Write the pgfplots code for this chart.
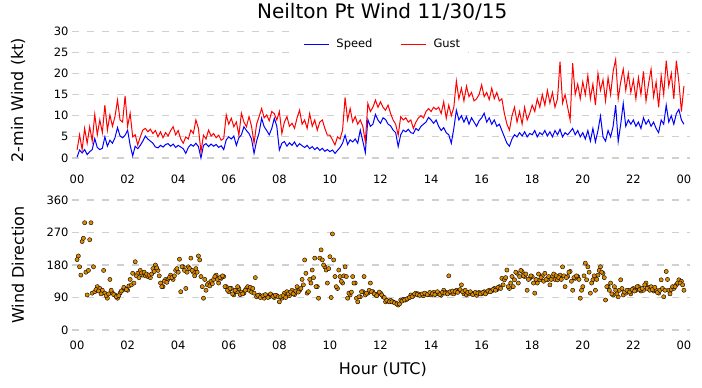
\documentclass[border=0pt]{standalone}
\usepackage{fontspec}
\setmainfont{DejaVu Sans}
\usepackage{pgfplots}
\usepackage{pgfplotstable}
\pgfplotsset{compat=1.18}
\definecolor{dirorange}{RGB}{220,138,0}
\definecolor{gridgray}{RGB}{208,208,208}
\pgfplotstableread{
h s g d1 d2
0.0 0.2 1.9 195 205
0.1 1.9 5.5 175 152
0.2 1.2 2.0 245 254
0.3 2.0 7.0 297 160
0.4 0.8 3.5 97 165
0.5 1.5 7.4 250 297
0.6 2.0 4.0 102 175
0.7 4.6 10.3 106 112
0.8 2.5 5.5 120 108
0.9 2.0 9.0 115 100
1.0 2.3 6.0 110 165
1.1 5.0 12.5 102 95
1.2 2.8 6.6 88 100
1.3 4.2 10.2 140 110
1.4 3.5 7.5 102 98
1.5 4.8 9.8 97 92
1.6 7.2 13.7 88 95
1.7 5.2 9.0 102 108
1.8 4.8 8.5 110 118
1.9 5.4 14.7 115 112
2.0 6.6 7.5 110 122
2.1 3.0 10.6 140 125
2.2 0.5 5.0 157 130
2.3 2.8 5.5 189 150
2.4 2.2 3.1 157 145
2.5 3.0 5.0 165 158
2.6 4.0 6.6 152 160
2.7 5.2 7.0 150 155
2.8 4.5 6.2 148 152
2.9 4.0 6.8 145 155
3.0 3.5 5.8 170 162
3.1 2.6 6.5 180 172
3.2 2.4 5.0 165 150
3.3 3.0 6.2 130 120
3.4 2.6 4.8 120 135
3.5 3.2 6.0 140 132
3.6 3.4 5.2 140 145
3.7 2.8 6.5 152 145
3.8 3.3 7.4 140 150
3.9 2.5 5.5 165 170
4.0 3.0 6.5 160 196
4.1 2.6 4.5 106 175
4.2 2.2 3.5 175 165
4.3 1.1 5.0 115 160
4.4 2.5 4.5 175 170
4.5 3.2 6.6 199 165
4.6 2.8 5.8 160 150
4.7 3.5 9.0 170 160
4.8 2.7 7.0 205 194
4.9 0.0 1.5 148 120
5.0 3.0 5.4 88 140
5.1 3.4 4.5 110 125
5.2 2.7 6.6 130 122
5.3 3.3 5.2 135 128
5.4 2.8 5.8 140 148
5.5 3.2 4.8 152 140
5.6 2.5 5.4 130 145
5.7 2.9 4.2 143 150
5.8 2.0 4.6 148 120
5.9 4.3 10.2 120 110
6.0 5.0 8.0 106 115
6.1 4.5 9.4 115 100
6.2 5.2 7.4 97 110
6.3 3.0 8.5 106 120
6.4 4.8 5.4 115 98
6.5 5.5 10.6 105 100
6.6 7.4 8.5 102 110
6.7 6.5 7.4 115 120
6.8 5.8 9.8 110 118
6.9 4.5 7.5 105 115
7.0 1.1 3.5 102 145
7.1 4.0 8.0 92 96
7.2 6.0 9.8 97 90
7.3 9.4 11.7 92 95
7.4 7.4 9.5 88 98
7.5 6.5 10.2 95 90
7.6 5.5 8.8 92 100
7.7 7.0 11.0 97 93
7.8 9.4 10.5 90 96
7.9 7.5 9.0 95 92
8.0 1.9 11.0 78 92
8.1 3.5 5.8 88 95
8.2 3.9 8.5 102 90
8.3 2.8 9.8 106 100
8.4 3.6 7.5 95 105
8.5 3.0 8.2 110 100
8.6 3.8 7.0 98 108
8.7 2.7 9.5 120 105
8.8 3.4 11.3 110 115
8.9 2.9 8.0 140 125
9.0 2.5 9.0 194 157
9.1 3.0 7.0 102 106
9.2 2.2 10.5 140 130
9.3 2.7 7.5 166 145
9.4 2.0 9.0 199 120
9.5 2.5 6.6 120 88
9.6 1.8 8.5 199 222
9.7 2.3 9.0 194 180
9.8 1.6 7.0 175 166
9.9 2.0 5.4 130 170
10.0 1.5 5.4 203 90
10.1 1.9 4.3 266 194
10.2 1.1 3.1 148 120
10.3 1.8 5.0 115 166
10.4 2.5 4.5 148 135
10.5 3.5 6.6 130 150
10.6 5.4 14.3 175 148
10.7 3.2 9.0 88 102
10.8 4.3 11.7 97 105
10.9 3.8 8.5 148 130
11.0 4.5 9.8 130 88
11.1 3.5 8.0 78 92
11.2 6.6 9.0 92 106
11.3 4.0 7.5 106 148
11.4 1.3 3.9 97 102
11.5 9.1 12.9 102 110
11.6 7.5 11.0 130 106
11.7 8.0 12.0 106 100
11.8 10.3 13.7 97 95
11.9 9.0 12.0 100 105
12.0 8.2 13.3 102 97
12.1 9.5 12.0 92 90
12.2 9.1 11.3 78 82
12.3 8.0 12.5 80 78
12.4 7.6 10.5 82 78
12.5 6.6 9.0 78 75
12.6 6.0 8.0 75 72
12.7 2.7 5.4 69 72
12.8 5.5 9.8 83 80
12.9 6.6 9.0 85 83
13.0 6.2 9.5 83 86
13.1 6.8 8.5 88 90
13.2 6.0 9.0 97 92
13.3 5.8 7.0 95 100
13.4 7.0 8.5 102 98
13.5 6.5 9.5 100 96
13.6 7.5 10.0 97 100
13.7 8.0 9.5 95 102
13.8 8.5 11.0 100 98
13.9 9.6 11.7 98 104
14.0 9.0 11.0 97 100
14.1 8.2 12.0 104 98
14.2 9.0 11.5 100 106
14.3 7.5 12.0 102 98
14.4 6.5 10.5 96 104
14.5 7.2 13.3 110 102
14.6 6.0 9.4 104 100
14.7 5.5 12.5 150 106
14.8 3.5 10.0 102 108
14.9 7.0 12.0 100 106
15.0 11.3 18.2 110 104
15.1 9.0 14.0 108 112
15.2 10.0 16.5 125 106
15.3 8.5 13.5 100 110
15.4 9.8 17.0 97 104
15.5 8.0 14.5 100 106
15.6 9.5 15.5 102 98
15.7 8.5 13.5 100 104
15.8 7.5 14.0 96 102
15.9 8.8 15.0 104 100
16.0 9.5 17.3 100 104
16.1 10.6 14.5 106 100
16.2 8.5 15.5 104 108
16.3 9.5 13.8 110 106
16.4 8.0 16.5 108 112
16.5 9.0 14.0 115 110
16.6 7.5 15.5 112 118
16.7 8.0 13.5 120 115
16.8 6.5 14.0 143 125
16.9 5.0 10.5 139 145
17.0 3.5 8.0 166 120
17.1 2.8 6.6 115 130
17.2 4.5 10.0 148 120
17.3 5.5 12.0 139 160
17.4 5.0 8.5 157 130
17.5 6.0 11.0 148 165
17.6 5.2 8.0 162 150
17.7 6.2 12.0 148 155
17.8 5.0 9.0 110 140
17.9 5.8 10.5 143 150
18.0 5.5 12.5 148 130
18.1 6.5 11.0 102 140
18.2 5.0 14.0 130 155
18.3 6.0 12.0 139 145
18.4 5.5 15.0 150 135
18.5 6.5 12.5 157 140
18.6 5.2 16.0 139 148
18.7 6.2 13.0 125 140
18.8 5.0 15.5 148 155
18.9 6.5 12.0 140 150
19.0 5.5 14.0 139 145
19.1 6.8 22.8 152 140
19.2 5.0 13.0 175 150
19.3 6.0 15.0 120 145
19.4 5.5 12.0 148 160
19.5 6.2 9.0 162 135
19.6 7.0 22.4 110 145
19.7 5.5 15.0 143 150
19.8 6.5 17.5 148 140
19.9 5.0 14.0 88 110
20.0 6.0 18.0 120 150
20.1 4.5 15.0 185 139
20.2 6.5 19.5 175 160
20.3 4.0 14.0 102 130
20.4 7.0 17.5 139 150
20.5 3.8 12.5 110 140
20.6 6.5 20.0 152 165
20.7 9.9 16.0 175 160
20.8 5.0 18.5 157 145
20.9 4.0 13.5 83 120
21.0 6.5 19.0 120 110
21.1 5.0 15.0 130 100
21.2 7.5 20.5 97 120
21.3 12.5 23.3 110 100
21.4 3.9 14.0 92 110
21.5 8.0 18.0 139 115
21.6 12.9 21.0 97 105
21.7 7.5 16.0 102 110
21.8 9.0 20.0 110 105
21.9 8.0 15.5 100 112
22.0 9.0 18.5 115 108
22.1 7.5 14.0 110 120
22.2 8.5 19.0 120 112
22.3 7.0 15.0 108 115
22.4 9.5 20.5 110 125
22.5 8.0 13.5 130 115
22.6 9.0 17.5 118 110
22.7 7.5 21.0 120 112
22.8 8.5 14.5 108 118
22.9 7.0 18.0 110 104
23.0 6.0 12.0 102 110
23.1 9.0 19.5 139 115
23.2 8.0 15.0 92 110
23.3 12.5 23.0 162 140
23.4 8.5 17.0 110 100
23.5 10.0 20.0 112 120
23.6 8.0 14.0 115 120
23.7 10.5 23.0 125 130
23.8 11.5 18.0 139 130
23.9 9.0 11.0 135 125
24.0 8.0 17.0 110 nan
}\wind

\begin{document}
\begin{tikzpicture}
\useasboundingbox (0,0) rectangle (702pt,388pt);
\pgfplotsset{
  common/.style={
    scale only axis, anchor=south west, width=618pt,
    xmin=-0.2, xmax=24.24,
    xtick={0,2,...,24},
    xticklabels={00,02,04,06,08,10,12,14,16,18,20,22,00},
    axis line style={draw=none}, major tick length=0pt,
    ymajorgrids=true, xmajorgrids=false,
    grid style={gridgray, line width=1.1pt, dash pattern=on 7pt off 8pt},
    tick label style={font=\fontsize{11.5}{13}\selectfont},
    xticklabel style={text height=8.4pt, text depth=0pt},
    /pgf/number format/assume math mode=true,
    label style={font=\fontsize{16}{19}\selectfont},
  }
}
\begin{axis}[common, at={(72pt,216pt)}, height=143pt,
  ymin=-3.3, ymax=30.5, ytick={0,5,...,30},
  ylabel={2-min Wind (kt)},
  ylabel style={at={(axis description cs:-0.0874,0.503)}, anchor=center},
  title={Neilton Pt Wind 11/30/15},
  title style={at={(axis description cs:0.502,1.0315)}, anchor=base, font=\fontsize{20}{24}\selectfont},
  legend style={at={(0.503,1)}, anchor=north, draw=none, fill=white,
    font=\fontsize{11.5}{13}\selectfont, inner xsep=6pt, inner ysep=8pt,
    /tikz/every odd column/.append style={column sep=5pt},
    /tikz/every even column/.append style={column sep=26pt}},
  legend columns=2,
  legend image code/.code={\draw (0pt,0pt) -- (25pt,0pt);},
]
\addplot[blue, line width=1pt] table[x=h, y=s]{\wind};
\addplot[red, line width=1pt] table[x=h, y=g]{\wind};
\legend{Speed,Gust}
\end{axis}
\begin{axis}[common, at={(72pt,50.8pt)}, height=140.8pt,
  ymin=-20, ymax=370, ytick={0,90,180,270,360},
  ylabel={Wind Direction},
  ylabel style={at={(axis description cs:-0.0874,0.513)}, anchor=center},
  xlabel={Hour (UTC)},
  xlabel style={at={(axis description cs:0.503,-0.226)}, anchor=center},
]
\addplot[only marks, mark=*, mark size=2.1pt, mark options={fill=dirorange, draw=black, line width=0.4pt}] table[x=h, y=d1]{\wind};
\addplot[only marks, mark=*, mark size=2.1pt, mark options={fill=dirorange, draw=black, line width=0.4pt}] table[x expr=\thisrow{h}+0.05, y=d2]{\wind};
\end{axis}
\end{tikzpicture}
\end{document}
